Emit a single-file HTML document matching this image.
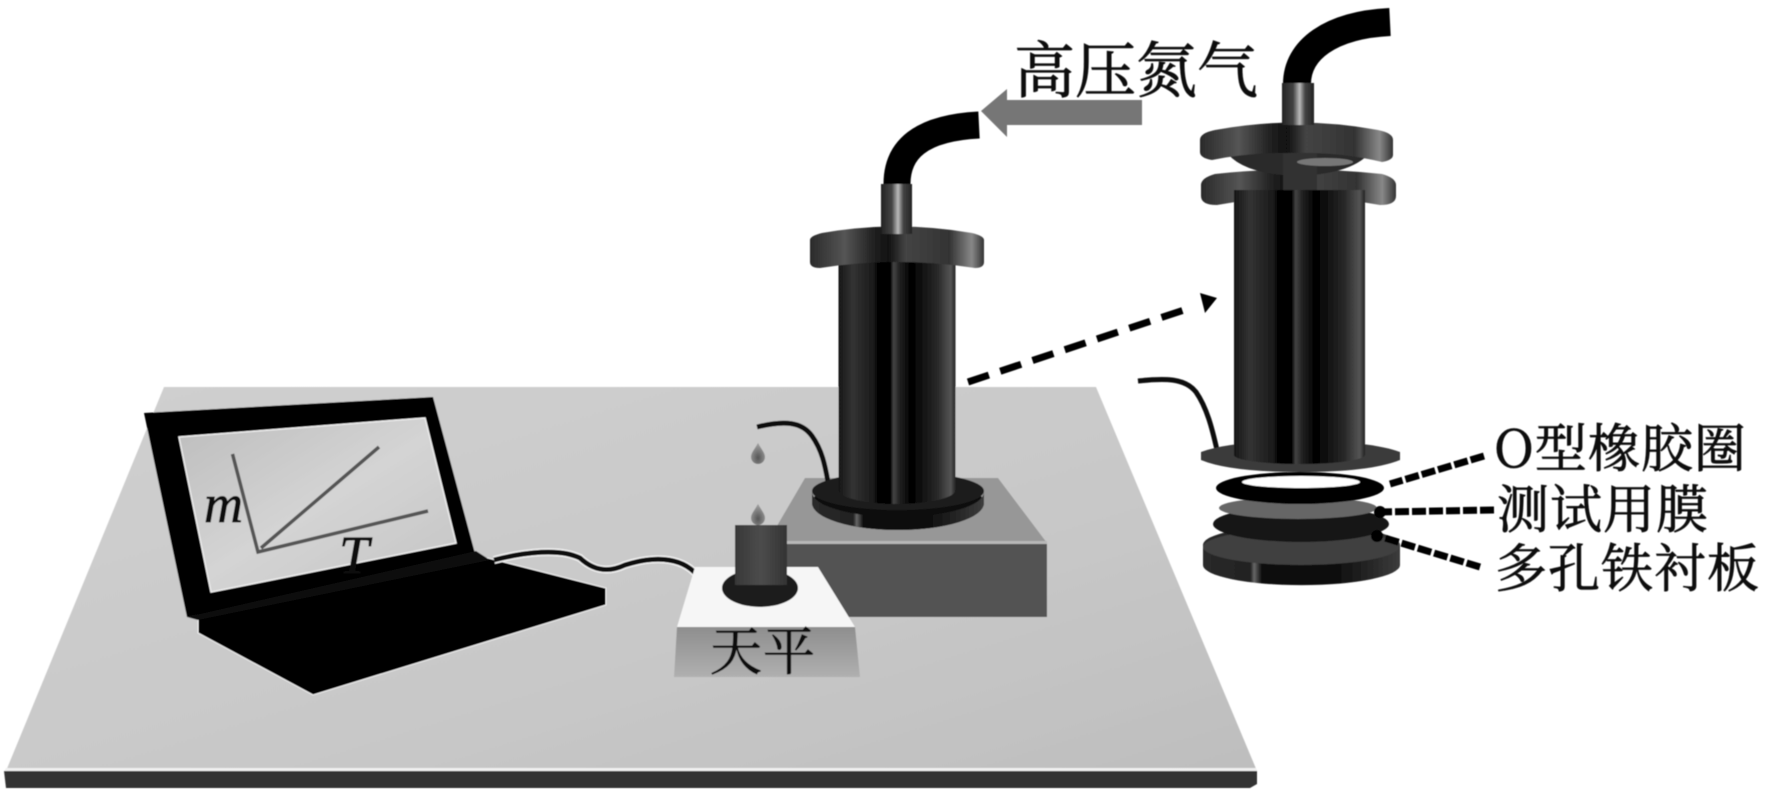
<!DOCTYPE html>
<html><head><meta charset="utf-8"><style>
html,body{margin:0;padding:0;background:#fff;width:1767px;height:805px;overflow:hidden}
svg{display:block}
text{font-family:"Liberation Serif","Noto Serif CJK SC",serif;fill:#111;stroke:#111;stroke-width:.8}
.cjk{font-family:"Noto Serif CJK SC","Liberation Serif",serif}
</style></head><body>
<svg width="1767" height="805" viewBox="0 0 1767 805" xmlns="http://www.w3.org/2000/svg">
<defs>
<linearGradient id="tbl" x1="0" y1="0" x2="1" y2="1"><stop offset="0" stop-color="#d0d0d0"/><stop offset=".6" stop-color="#c8c8c8"/><stop offset="1" stop-color="#bebebe"/></linearGradient>
<linearGradient id="scr" x1="0" y1="0" x2="1" y2="1"><stop offset="0" stop-color="#bdbdbd"/><stop offset=".5" stop-color="#d4d4d4"/><stop offset="1" stop-color="#c4c4c4"/></linearGradient>
<linearGradient id="body" x1="0" x2="1" y1="0" y2="0"><stop offset="0" stop-color="#161616"/><stop offset=".12" stop-color="#333"/><stop offset=".3" stop-color="#1a1a1a"/><stop offset=".34" stop-color="#000"/><stop offset=".44" stop-color="#000"/><stop offset=".47" stop-color="#444"/><stop offset=".52" stop-color="#222"/><stop offset=".62" stop-color="#000"/><stop offset=".85" stop-color="#2a2a2a"/><stop offset=".96" stop-color="#555"/><stop offset="1" stop-color="#222"/></linearGradient>
<linearGradient id="fl" x1="0" x2="1" y1="0" y2="0"><stop offset="0" stop-color="#2a2a2a"/><stop offset=".2" stop-color="#555"/><stop offset=".36" stop-color="#222"/><stop offset=".45" stop-color="#111"/><stop offset=".55" stop-color="#444"/><stop offset=".8" stop-color="#333"/><stop offset=".93" stop-color="#888"/><stop offset="1" stop-color="#333"/></linearGradient>
<linearGradient id="dk" x1="0" x2="1" y1="0" y2="0"><stop offset="0" stop-color="#2a2a2a"/><stop offset=".24" stop-color="#222"/><stop offset=".26" stop-color="#666"/><stop offset=".3" stop-color="#0a0a0a"/><stop offset=".7" stop-color="#111"/><stop offset="1" stop-color="#3c3c3c"/></linearGradient>
<linearGradient id="stem" x1="0" x2="1" y1="0" y2="0"><stop offset="0" stop-color="#222"/><stop offset=".35" stop-color="#444"/><stop offset=".55" stop-color="#bbb"/><stop offset=".72" stop-color="#444"/><stop offset="1" stop-color="#222"/></linearGradient>
<linearGradient id="cup" x1="0" x2="1" y1="0" y2="0"><stop offset="0" stop-color="#383838"/><stop offset=".5" stop-color="#4c4c4c"/><stop offset="1" stop-color="#333"/></linearGradient>
<linearGradient id="bal" x1="0" x2="0" y1="0" y2="1"><stop offset="0" stop-color="#8e8e8e"/><stop offset="1" stop-color="#b0b0b0"/></linearGradient>
<radialGradient id="drop" cx=".5" cy=".7" r=".6"><stop offset="0" stop-color="#555"/><stop offset="1" stop-color="#999"/></radialGradient>
<filter id="soft" filterUnits="userSpaceOnUse" x="0" y="0" width="1767" height="805"><feGaussianBlur stdDeviation=".6"/></filter>
</defs>
<g filter="url(#soft)">
<!-- table -->
<polygon points="164,387 1096,387 1257,771 6,771" fill="url(#tbl)"/>
<polygon points="6,768 1256,768 1257,772 4,772" fill="#f0f0f0"/>
<polygon points="4,771 1257,771 1257,784 1250,788 6,788" fill="#333"/>

<!-- laptop -->
<polygon points="144,413 433,397 476,557 187,617" fill="#000"/>
<polygon points="179,437 425,418 456,543 211,592" fill="url(#scr)" stroke="#eee" stroke-width="1.5"/>
<g fill="none" stroke="#555" stroke-width="3.5">
<path d="M232.5,454 L258,552 L428,511"/>
<path d="M261,548 L379,447"/>
</g>
<text x="204" y="522" font-size="54" font-style="italic">m</text>
<text x="339" y="573" font-size="54" font-style="italic">T</text>
<polygon points="198,617 488,558 606,588 606,605 313,695 198,633" fill="#000" stroke="#f4f4f4" stroke-width="1"/>
<polygon points="187,617 476,551 490,560 198,620" fill="#0c0c0c"/>
<path d="M494,560 C525,552 560,548 580,558 C595,572 610,572 625,565 C650,557 680,555 697,575" fill="none" stroke="#f2f2f2" stroke-width="8"/>
<path d="M494,560 C525,552 560,548 580,558 C595,572 610,572 625,565 C650,557 680,555 697,575" fill="none" stroke="#111" stroke-width="5"/>

<!-- gray block -->
<polygon points="805,478 998,478 1047,543 767,543" fill="#979797"/>
<rect x="780" y="543" width="267" height="74" fill="#525252"/>
<rect x="767" y="541" width="280" height="3" fill="#b8b8b8"/>

<!-- drops + small wire left -->
<path d="M757,427 C785,420 802,422 812,436 C822,450 825,465 828,482" fill="none" stroke="#0c0c0c" stroke-width="5"/>
<path d="M758,443 C762,450 765,453 765,457 A7,7 0 0 1 751,457 C751,453 754,450 758,443Z" fill="url(#drop)"/>
<path d="M758,504 C762,511 765,514 765,518 A7,7 0 0 1 751,518 C751,514 754,511 758,504Z" fill="url(#drop)"/>

<!-- main cylinder -->
<path d="M897,184 C897,150 920,128 979,125" fill="none" stroke="#050505" stroke-width="27"/>
<ellipse cx="898" cy="503" rx="86" ry="27" fill="#101010"/>
<path d="M812,492 A86,25 0 0 0 984,492 L984,503 A86,27 0 0 1 812,503Z" fill="url(#dk)"/>
<ellipse cx="898" cy="491" rx="86" ry="19" fill="#1e1e1e"/>
<rect x="838.5" y="258" width="117" height="232" fill="url(#body)"/>
<ellipse cx="897" cy="490" rx="58.5" ry="14" fill="url(#body)"/>
<path d="M810,240 Q810,236 822,233 Q897,220 972,233 Q984,236 984,240 L984,262 Q984,268 975,268 Q897,256 820,268 Q810,268 810,262Z" fill="url(#fl)"/>
<rect x="881" y="184" width="31" height="50" fill="url(#stem)"/>

<!-- balance -->
<polygon points="695,567 818,567 855,627 677,627" fill="#f6f6f6"/>
<polygon points="677,627 855,627 860,677 674,677" fill="url(#bal)"/>
<ellipse cx="760" cy="588" rx="38" ry="19" fill="#1c1c1c"/>
<rect x="735" y="525" width="52" height="60" fill="url(#cup)"/>
<text class="cjk" x="710" y="670" font-size="52" letter-spacing="1">天平</text>

<!-- high-pressure arrow and label -->
<polygon points="981,111 1007,89 1007,100 1142,100 1142,125 1007,125 1007,137" fill="#767676"/>
<text class="cjk" x="1014" y="92" font-size="61">高压氮气</text>

<!-- dashed arrow -->
<path d="M968,382 L1187,309" fill="none" stroke="#000" stroke-width="7" stroke-dasharray="22 12"/>
<polygon points="1217,298 1205,313 1200,293" fill="#000"/>

<!-- exploded cylinder -->
<path d="M1297,84 C1297,50 1330,25 1390,22" fill="none" stroke="#050505" stroke-width="28"/>
<path d="M1138,381 C1165,378 1185,378 1196,392 C1207,408 1212,428 1217,450" fill="none" stroke="#0c0c0c" stroke-width="5"/>
<!-- lower upper flange -->
<path d="M1201,185 Q1201,178 1215,174 Q1297,165 1382,174 Q1396,178 1396,185 L1396,196 Q1396,205 1380,205 Q1297,190 1217,205 Q1201,205 1201,196Z" fill="url(#fl)"/>
<rect x="1234" y="190" width="131" height="265" fill="url(#body)"/>
<!-- hub between the flanges -->
<path d="M1225,150 Q1297,135 1372,150 Q1355,174 1297,176 Q1240,174 1225,150Z" fill="#2a2a2a"/>
<rect x="1283" y="150" width="34" height="40" fill="#303030"/>
<ellipse cx="1325" cy="162" rx="28" ry="4" fill="#777"/>
<!-- top flange -->
<path d="M1200,140 Q1200,133 1215,130 Q1297,115 1378,130 Q1393,133 1393,140 L1393,155 Q1393,160 1382,162 Q1340,152 1297,153 Q1250,152 1212,160 Q1200,158 1200,152Z" fill="url(#fl)"/>
<rect x="1282" y="83" width="32" height="42" fill="url(#stem)"/>
<!-- lower flange -->
<path d="M1201,452 Q1230,441 1300,441 Q1370,441 1400,452 L1400,460 Q1370,472 1300,472 Q1230,472 1201,460Z" fill="#3a3a3a"/>
<rect x="1234" y="435" width="131" height="20" fill="url(#body)"/>
<ellipse cx="1299.5" cy="455" rx="65.5" ry="9" fill="url(#body)"/>
<path d="M1203,545 A98,20 0 0 1 1400,545 L1400,565 A98,20 0 0 1 1203,565Z" fill="url(#dk)"/>
<ellipse cx="1301" cy="547" rx="98" ry="18" fill="#404040"/>
<ellipse cx="1301" cy="524" rx="88" ry="18" fill="#191919"/>
<ellipse cx="1298" cy="508" rx="79" ry="11" fill="#666"/>
<ellipse cx="1300" cy="488" rx="84" ry="16" fill="#060606"/>
<ellipse cx="1301" cy="482" rx="59" ry="6" fill="#fff"/>

<!-- leader lines -->
<g fill="none" stroke="#000" stroke-width="7" stroke-dasharray="14 3">
<path d="M1484,456 L1390,484"/>
<path d="M1494,510 L1380,512"/>
<path d="M1480,567 L1378,536"/>
</g>
<circle cx="1380" cy="512" r="6" fill="#000"/>
<circle cx="1377" cy="536" r="6" fill="#000"/>

<text class="cjk" x="1494" y="467" font-size="52" letter-spacing="1">O型橡胶圈</text>
<text class="cjk" x="1497" y="528" font-size="52" letter-spacing="1">测试用膜</text>
<text class="cjk" x="1495" y="587" font-size="52" letter-spacing="1">多孔铁衬板</text>
</g>
</svg>
</body></html>
